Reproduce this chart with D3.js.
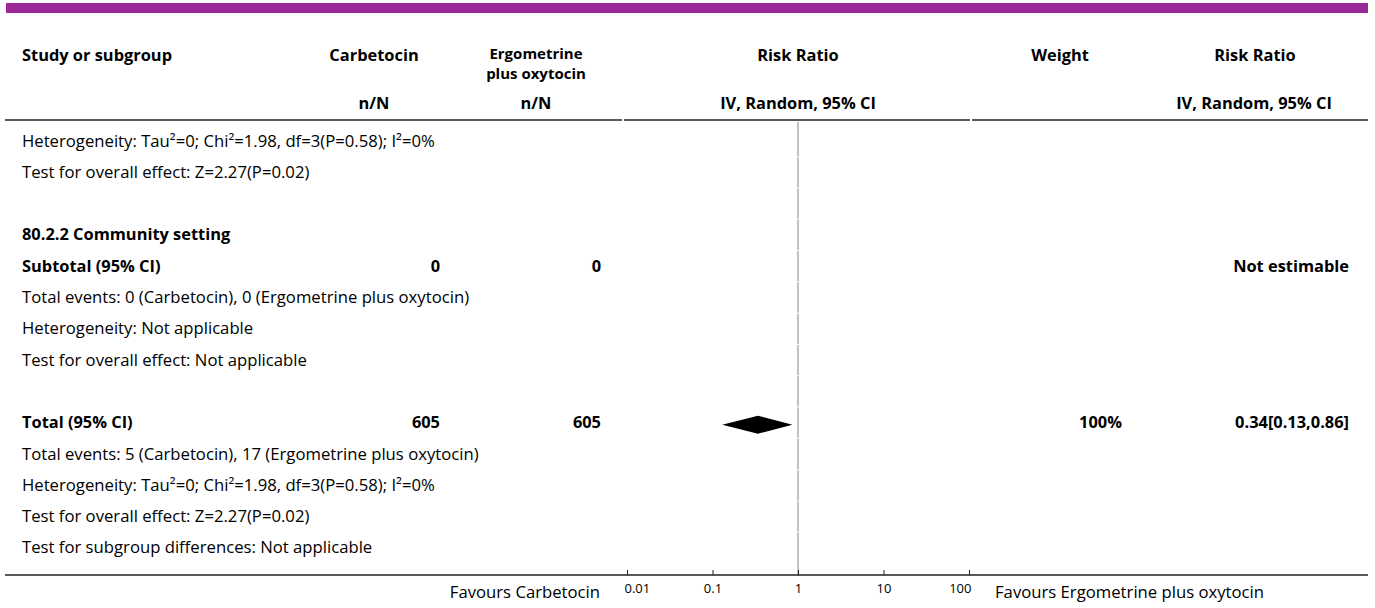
<!DOCTYPE html>
<html>
<head>
<meta charset="utf-8">
<script src="https://cdn.jsdelivr.net/npm/d3@7"></script>
<style>
  body { margin: 0; background: #fff; }
  svg text { font-family: "Open Sans", "Noto Sans", sans-serif; fill: #000; }
</style>
</head>
<body>
<div id="forest"></div>
<script>
// table rows, top to bottom
let rowLabels = [
  "Heterogeneity: Tau\u00b2=0; Chi\u00b2=1.98, df=3(P=0.58); I\u00b2=0%",
  "Test for overall effect: Z=2.27(P=0.02)",
  "",
  "80.2.2 Community setting",
  "Subtotal (95% CI)",
  "Total events: 0 (Carbetocin), 0 (Ergometrine plus oxytocin)",
  "Heterogeneity: Not applicable",
  "Test for overall effect: Not applicable",
  "",
  "Total (95% CI)",
  "Total events: 5 (Carbetocin), 17 (Ergometrine plus oxytocin)",
  "Heterogeneity: Tau\u00b2=0; Chi\u00b2=1.98, df=3(P=0.58); I\u00b2=0%",
  "Test for overall effect: Z=2.27(P=0.02)",
  "Test for subgroup differences: Not applicable"
];
let boldRows = [3, 4, 9];
let carbetocinN = ["", "", "", "", "0", "", "", "", "", "605", "", "", "", ""];
let ergoN = ["", "", "", "", "0", "", "", "", "", "605", "", "", "", ""];
let weights = ["", "", "", "", "", "", "", "", "", "100%", "", "", "", ""];
let effectText = ["", "", "", "", "Not estimable", "", "", "", "", "0.34[0.13,0.86]", "", "", "", ""];

// pooled estimate (diamond) on the Total row
let diamondRow = 9;
let pooled = { est: 0.34, lo: 0.13, hi: 0.86 };

let tickValues = [0.01, 0.1, 1, 10, 100];
let tickLabels = ["0.01", "0.1", "1", "10", "100"];
let favoursLeft = "Favours Carbetocin";
let favoursRight = "Favours Ergometrine plus oxytocin";

let width = 1375, height = 608;
let rowH = 31.3, firstRow = 141;
let axisY = 575;
let fs = "16.7px", fsBold = "16.4px";

let svg = d3.select("#forest")
  .append("svg")
  .attr("width", width)
  .attr("height", height);

// purple band on top
svg.append("rect")
  .attr("x", 6).attr("y", 3)
  .attr("width", 1362).attr("height", 10)
  .style("fill", "#9b2a98");

// header
let head = svg.append("g").style("font-weight", "bold").style("font-size", fsBold);
head.append("text").attr("x", 22).attr("y", 61).text("Study or subgroup");
head.append("text").attr("x", 374).attr("y", 61).attr("text-anchor", "middle").text("Carbetocin");
head.append("text").attr("x", 536).attr("y", 58.5)
  .attr("text-anchor", "middle").style("font-size", "15px").text("Ergometrine");
head.append("text").attr("x", 536).attr("y", 79)
  .attr("text-anchor", "middle").style("font-size", "15px").text("plus oxytocin");
head.append("text").attr("x", 798).attr("y", 61).attr("text-anchor", "middle").text("Risk Ratio");
head.append("text").attr("x", 1060).attr("y", 61).attr("text-anchor", "middle").text("Weight");
head.append("text").attr("x", 1255).attr("y", 61).attr("text-anchor", "middle").text("Risk Ratio");
head.append("text").attr("x", 374).attr("y", 109).attr("text-anchor", "middle").text("n/N");
head.append("text").attr("x", 536).attr("y", 109).attr("text-anchor", "middle").text("n/N");
head.append("text").attr("x", 798).attr("y", 109).attr("text-anchor", "middle").text("IV, Random, 95% CI");
head.append("text").attr("x", 1254).attr("y", 109).attr("text-anchor", "middle").text("IV, Random, 95% CI");

// header rule
[[5, 622], [624, 970], [972, 1368]].forEach(function (s) {
  svg.append("line")
    .attr("x1", s[0]).attr("x2", s[1])
    .attr("y1", 120).attr("y2", 120)
    .style("stroke", "#222").style("stroke-width", 1.6);
});

// log scale for the risk ratio
let x = d3.scaleLog()
  .domain([0.01, 100])
  .range([627, 969]);

let rowY = function (i) { return firstRow + i * rowH; };

// line of no effect, one segment per row
svg.append("g").selectAll("line")
  .data(rowLabels)
  .enter()
  .append("line")
  .attr("x1", x(1)).attr("x2", x(1))
  .attr("y1", function (d, i) { return i == 0 ? 122 : rowY(i) - rowH / 2 + 0.5; })
  .attr("y2", function (d, i) { return i == rowLabels.length - 1 ? axisY : rowY(i) + rowH / 2 - 0.5; })
  .style("stroke", "#999")
  .style("stroke-width", 1.2);

// rows
let rows = svg.append("g").style("font-size", fs);
rows.selectAll(".lab")
  .data(rowLabels)
  .enter()
  .append("text")
  .attr("x", 22)
  .attr("y", function (d, i) { return rowY(i) + 5.5; })
  .style("font-weight", function (d, i) { return boldRows.indexOf(i) >= 0 ? "bold" : "normal"; })
  .style("font-size", function (d, i) { return boldRows.indexOf(i) >= 0 ? fsBold : fs; })
  .text(function (d) { return d; });

function rightCol(arr, xr) {
  rows.selectAll(null)
    .data(arr)
    .enter()
    .append("text")
    .attr("x", xr)
    .attr("y", function (d, i) { return rowY(i) + 5.5; })
    .attr("text-anchor", "end")
    .style("font-weight", "bold")
    .style("font-size", fsBold)
    .text(function (d) { return d; });
}
rightCol(carbetocinN, 440);
rightCol(ergoN, 601);
rightCol(weights, 1122);
rightCol(effectText, 1349);

// pooled diamond
let cy = rowY(diamondRow) + 2;
svg.append("path")
  .attr("d", "M" + x(pooled.lo) + "," + cy +
    "L" + x(pooled.est) + "," + (cy - 9) +
    "L" + x(pooled.hi) + "," + cy +
    "L" + x(pooled.est) + "," + (cy + 9) + "Z")
  .style("fill", "#000");

// bottom rule + axis
svg.append("line")
  .attr("x1", 5).attr("x2", 1368)
  .attr("y1", axisY).attr("y2", axisY)
  .style("stroke", "#222").style("stroke-width", 1.6);

let axis = svg.append("g")
  .attr("transform", "translate(0," + axisY + ")")
  .call(d3.axisBottom(x)
    .tickValues(tickValues)
    .tickFormat(function (d, i) { return tickLabels[i]; })
    .tickSize(-5)
    .tickPadding(9));
axis.select(".domain").remove();
axis.selectAll("line").style("stroke", "#222");
axis.selectAll("text")
  .style("font-family", "'Open Sans', 'Noto Sans', sans-serif")
  .style("font-size", "13px")
  .style("fill", "#000")
  .attr("text-anchor", function (d, i) { return i == 0 ? "start" : (i == tickValues.length - 1 ? "end" : "middle"); })
  .attr("dx", function (d, i) { return i == 0 ? -3 : (i == tickValues.length - 1 ? 2 : 0); });

svg.append("text")
  .attr("x", 600).attr("y", axisY + 23)
  .attr("text-anchor", "end")
  .style("font-size", fs)
  .text(favoursLeft);
svg.append("text")
  .attr("x", 995).attr("y", axisY + 23)
  .style("font-size", fs)
  .text(favoursRight);
</script>
</body>
</html>
